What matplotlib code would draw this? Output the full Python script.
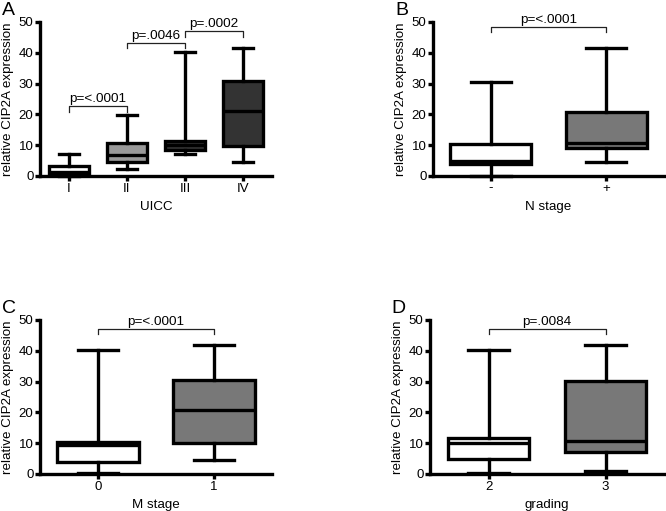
import matplotlib
matplotlib.use("Agg")
import matplotlib.pyplot as plt

plt.rcParams['font.family'] = ['Liberation Sans', 'DejaVu Sans']

# ---- data ----
A_cats = ['I', 'II', 'III', 'IV']
A_low = [0.0, 2.3, 7.1, 4.7]
A_q1 = [0.3, 4.4, 8.4, 9.8]
A_med = [1.2, 6.9, 10.0, 21.0]
A_q3 = [3.4, 10.6, 11.5, 30.8]
A_high = [7.1, 19.9, 40.4, 41.7]
A_fill = ['white', '#999999', '#333333', '#333333']
A_pairs = [(0, 1, 22.7, 'p=<.0001'), (1, 2, 43.3, 'p=.0046'), (2, 3, 47.0, 'p=.0002')]

B_cats = ['-', '+']
B_low = [0.0, 4.7]
B_q1 = [3.9, 9.0]
B_med = [5.0, 10.8]
B_q3 = [10.4, 20.7]
B_high = [30.6, 41.7]
B_pairs = [(0, 1, 48.5, 'p=<.0001')]

C_cats = ['0', '1']
C_low = [0.2, 4.6]
C_q1 = [4.0, 10.0]
C_med = [9.5, 20.9]
C_q3 = [10.5, 30.4]
C_high = [40.4, 41.8]
C_pairs = [(0, 1, 47.2, 'p=<.0001')]

D_cats = ['2', '3']
D_low = [0.2, 1.0]
D_q1 = [4.8, 7.0]
D_med = [10.0, 10.8]
D_q3 = [11.6, 30.1]
D_high = [40.2, 41.8]
D_pairs = [(0, 1, 47.2, 'p=.0084')]

two_fill = ['white', '#787878']

yticks = [0, 10, 20, 30, 40, 50]
ylabel = 'relative CIP2A expression'

W, H = 666, 511
fig = plt.figure(figsize=(W / 100, H / 100), dpi=100)

LW = 2.4


def px_axes(l, r, b, t):
    return fig.add_axes([l / W, 1 - b / H, (r - l) / W, (b - t) / H])


def panel(ax, cats, low, q1, med, q3, high, fills, pairs, xlabel, letter):
    stats = []
    for i in range(len(cats)):
        stats.append(dict(whislo=low[i], q1=q1[i], med=med[i], q3=q3[i],
                          whishi=high[i], fliers=[], label=cats[i]))
    pos = list(range(len(cats)))
    bp = ax.bxp(stats, positions=pos, widths=0.7, patch_artist=True,
                showfliers=False,
                boxprops=dict(linewidth=LW, edgecolor='black'),
                medianprops=dict(linewidth=LW, color='black'),
                whiskerprops=dict(linewidth=LW, color='black'),
                capprops=dict(linewidth=LW, color='black'),
                capwidths=0.35)
    for patch, c in zip(bp['boxes'], fills):
        patch.set_facecolor(c)
    for k in ['boxes', 'medians', 'whiskers', 'caps']:
        for a in bp[k]:
            a.set_clip_on(False)
    ax.set_xlim(-0.5, len(cats) - 0.5)
    ax.set_ylim(0, 50)
    ax.set_yticks(yticks)
    ax.set_xticks(pos)
    ax.set_xticklabels(cats)
    for s in ['top', 'right']:
        ax.spines[s].set_visible(False)
    for s in ['left', 'bottom']:
        ax.spines[s].set_linewidth(LW)
        ax.spines[s].set_zorder(5)
    ax.tick_params(axis='both', width=LW, length=3.5, labelsize=9.5, pad=1.2)
    ax.set_ylabel(ylabel, fontsize=9.6, labelpad=3)
    ax.set_xlabel(xlabel, fontsize=9.6, labelpad=5)
    for (i, j, y, txt) in pairs:
        ax.plot([i, i, j, j], [y - 1.8, y, y, y - 1.8], color='#222222',
                lw=0.9, clip_on=False)
        ax.text((i + j) / 2, y + 0.3, txt, ha='center', va='bottom',
                fontsize=9.7)
    ax.text(-0.165, 1.02, letter, transform=ax.transAxes, fontsize=14,
            ha='left', va='bottom')
    ax.patch.set_visible(False)


axA = px_axes(40, 272, 176, 22)
panel(axA, A_cats, A_low, A_q1, A_med, A_q3, A_high, A_fill, A_pairs, 'UICC', 'A')
axB = px_axes(433, 664, 176, 22)
panel(axB, B_cats, B_low, B_q1, B_med, B_q3, B_high, two_fill, B_pairs, 'N stage', 'B')
axC = px_axes(40, 272, 474, 320)
panel(axC, C_cats, C_low, C_q1, C_med, C_q3, C_high, two_fill, C_pairs, 'M stage', 'C')
axD = px_axes(430, 664, 474, 320)
panel(axD, D_cats, D_low, D_q1, D_med, D_q3, D_high, two_fill, D_pairs, 'grading', 'D')

fig.savefig('out.png', dpi=100)
